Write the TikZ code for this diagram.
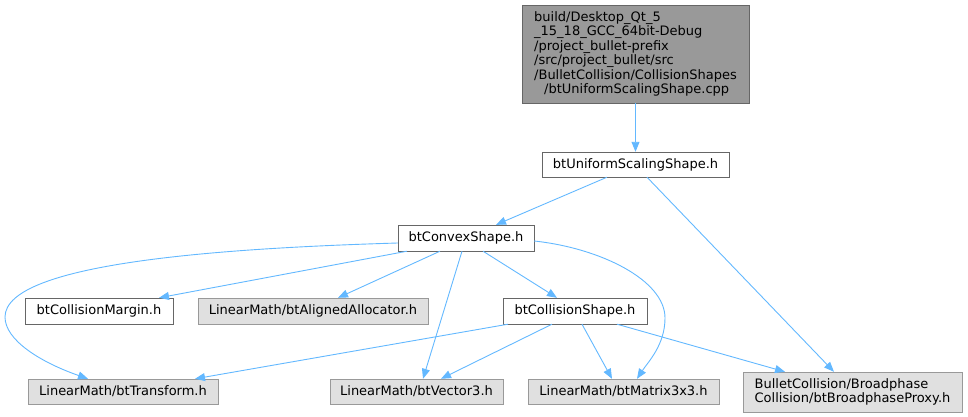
\documentclass[tikz,border=0pt]{standalone}
\usepackage{fontspec}
\setmainfont{DejaVu Sans}
\usepackage{tikz}
\usetikzlibrary{arrows.meta}

\definecolor{edgeblue}{HTML}{63B8FF}
\definecolor{extfill}{HTML}{E0E0E0}
\definecolor{extline}{HTML}{999999}
\definecolor{hdrline}{HTML}{666666}

\begin{document}
\begin{tikzpicture}[
  x=1pt, y=-1pt,
  hdr/.style={rectangle, draw=hdrline, fill=white, inner sep=0pt,
              minimum height=26pt, align=center,
              font=\fontsize{13}{14.4}\selectfont},
  ext/.style={hdr, draw=extline, fill=extfill},
  root/.style={hdr, draw=hdrline, fill=extline, align=left},
  edge/.style={-{Triangle[length=10pt, width=8pt]}, draw=edgeblue,
               line width=0.9pt}
]
\useasboundingbox (0,0) rectangle (968,417);

%% ---- ROOT (top) ----
\node[root, minimum width=227pt, minimum height=98pt] at (635.5, 54) (cpp)
  {build/Desktop\_Qt\_5\\\_15\_18\_GCC\_64bit-Debug\\/project\_bullet-prefix\\/src/project\_bullet/src\\/BulletCollision/CollisionShapes\\\hspace*{10pt}/btUniformScalingShape.cpp};

%% ---- HEADERS ----
\node[hdr, minimum width=187pt, minimum height=25pt] at (635.5,164.5) (uniform) {btUniformScalingShape.h};
\node[hdr, minimum width=136pt] at (466, 238)  (convex) {btConvexShape.h};
\node[hdr, minimum width=148pt] at (99, 311)   (margin) {btCollisionMargin.h};
\node[ext, minimum width=230pt] at (313, 311)  (alloc)  {LinearMath/btAlignedAllocator.h};
\node[hdr, minimum width=144pt] at (575, 311)  (cshape) {btCollisionShape.h};

%% ---- BOTTOM ROW ----
\node[ext, minimum width=190pt, minimum height=25pt] at (123, 391.5)   (transform) {LinearMath/btTransform.h};
\node[ext, minimum width=173pt, minimum height=25pt] at (416.5, 391.5) (vector)    {LinearMath/btVector3.h};
\node[ext, minimum width=191pt, minimum height=25pt] at (623.5, 391.5) (matrix)    {LinearMath/btMatrix3x3.h};
\node[ext, minimum width=219pt, minimum height=40pt, align=left] at (852.5, 392) (proxy)
  {BulletCollision/Broadphase\\Collision/btBroadphaseProxy.h};

%% ---- Arrows ----
\draw[edge] (cpp) -- (uniform);
\draw[edge] ([xshift=-28.5pt]uniform.south) -- ([xshift=30pt]convex.north);
\draw[edge] ([xshift=11.5pt]uniform.south)  -- ([xshift=-18.5pt]proxy.north);

\draw[edge] ([xshift=-59pt]convex.south) -- ([xshift=60pt]margin.north);
\draw[edge] ([xshift=-26pt]convex.south) -- ([xshift=25pt]alloc.north);
\draw[edge] ([xshift=-4pt]convex.south)  -- ([xshift=6.5pt]vector.north);
\draw[edge] ([xshift=17pt]convex.south)  -- ([xshift=-18pt]cshape.north);
\draw[edge] ([yshift=-5pt]convex.west) .. controls (230,248) and (5,262) .. (5,317)
            .. controls (5,340) and (40,362) .. ([xshift=-35pt]transform.north);
\draw[edge] ([yshift=-3pt]convex.east) .. controls (600,248) and (665,280) .. (665,318)
            .. controls (665,345) and (648,362) .. ([xshift=13.5pt]matrix.north);

\draw[edge] ([xshift=-67pt]cshape.south) -- ([xshift=72pt]transform.north);
\draw[edge] ([xshift=-23pt]cshape.south) -- ([xshift=24.5pt]vector.north);
\draw[edge] ([xshift=7pt]cshape.south)   -- ([xshift=-11.5pt]matrix.north);
\draw[edge] ([xshift=42pt]cshape.south)  -- ([xshift=-67.5pt]proxy.north);
\end{tikzpicture}
\end{document}
